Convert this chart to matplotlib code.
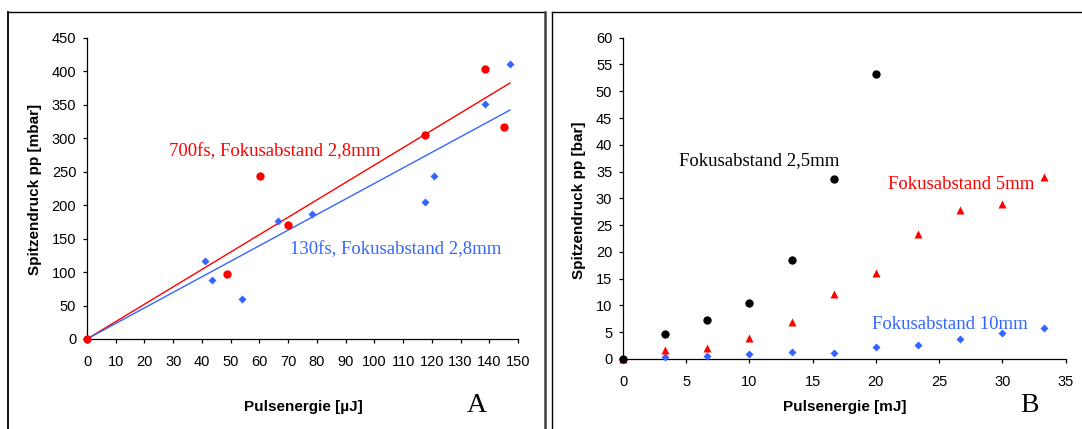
# -*- coding: utf-8 -*-
# Spitzendruck vs. Pulsenergie, zwei Panels (A: uJ / mbar, B: mJ / bar)

import numpy as np
import matplotlib.pyplot as plt
from matplotlib.lines import Line2D

# ====================================================================
# DATEN
# ====================================================================
# Panel A - 700fs, Fokusabstand 2,8mm (rote Kreise)
a_red_x = [0, 48.8, 60.1, 69.8, 117.5, 138.6, 145.1]
a_red_y = [0, 97, 243, 170, 304, 403, 316]
# Panel A - 130fs, Fokusabstand 2,8mm (blaue Rauten)
a_blue_x = [0, 41.1, 43.5, 54.0, 66.5, 78.4, 117.5, 120.8, 138.6, 147.2]
a_blue_y = [0, 116.5, 88.6, 59.2, 175.7, 186, 205, 243, 351, 410]

# Panel B - Pulsenergie [mJ]
b_x = [0, 3.33, 6.67, 10.0, 13.33, 16.67, 20.0, 23.33, 26.67, 30.0, 33.33]
b_black_y = [0, 4.6, 7.2, 10.45, 18.5, 33.7, 53.2]          # Fokusabstand 2,5mm
b_red_y = [0, 1.7, 2.1, 3.9, 6.9, 12.1, 16.0, 23.4, 27.8, 28.9, 34.0]  # 5mm
b_blue_y = [0, 0.4, 0.6, 0.9, 1.3, 1.1, 2.2, 2.6, 3.7, 4.8, 5.7]       # 10mm

a_xticks = list(range(0, 151, 10))
a_yticks = list(range(0, 451, 50))
b_xticks = list(range(0, 36, 5))
b_yticks = list(range(0, 61, 5))

RED = '#ff0000'
BLUE = '#3366ff'
W, H = 1082, 429

plt.rcParams['font.family'] = ['Liberation Sans', 'DejaVu Sans']
SERIF = ['Liberation Serif', 'DejaVu Serif']


def px(x, y):
    # Pixel (von oben links) -> Figurkoordinaten
    return x / W, 1 - y / H


def style_axes(ax, xticks, yticks):
    ax.spines['top'].set_visible(False)
    ax.spines['right'].set_visible(False)
    for s in ('left', 'bottom'):
        ax.spines[s].set_linewidth(0.9)
    ax.set_xticks(xticks)
    ax.set_yticks(yticks)
    ax.set_xlim(xticks[0], xticks[-1])
    ax.set_ylim(yticks[0], yticks[-1])
    ax.tick_params(axis='x', direction='out', length=3.2, width=0.9, pad=8, labelsize=10.5)
    ax.tick_params(axis='y', direction='out', length=3.2, width=0.9, pad=4.5, labelsize=10.5)


def fit_origin(x, y):
    # Trendlinie durch den Ursprung (kleinste Quadrate)
    x, y = np.asarray(x), np.asarray(y)
    return np.sum(x * y) / np.sum(x * x)


def main():
    fig = plt.figure(figsize=(W / 100, H / 100), dpi=100)

    # --- Rahmen der beiden Panels ---
    xa0, ya0 = px(8.3, 12.3)
    xa1, _ = px(544.7, 0)
    xb0, _ = px(552.3, 0)
    fig.add_artist(Line2D([xa0, xa0], [0, ya0], color='black', lw=1.3))
    fig.add_artist(Line2D([xa0, xa1], [ya0, ya0], color='black', lw=1.0))
    fig.add_artist(Line2D([xa1, xa1], [0, ya0], color='#404040', lw=1.8))
    fig.add_artist(Line2D([xb0, xb0], [0, ya0], color='black', lw=1.0))
    fig.add_artist(Line2D([xb0, 1.0], [ya0, ya0], color='black', lw=1.0))

    # --- Panel A ---
    axA = fig.add_axes([87 / W, 1 - 339 / H, (518 - 87) / W, (339 - 37.7) / H])
    style_axes(axA, a_xticks, a_yticks)
    xmax = max(a_blue_x)
    xs = np.array([0, xmax])
    axA.plot(xs, fit_origin(a_red_x, a_red_y) * xs, color=RED, lw=1.0, zorder=2)
    axA.plot(xs, fit_origin(a_blue_x, a_blue_y) * xs, color=BLUE, lw=1.0, zorder=2)
    axA.plot(a_blue_x, a_blue_y, 'D', color=BLUE, ms=4, mec='none', clip_on=False, zorder=3)
    axA.plot(a_red_x, a_red_y, 'o', color=RED, ms=6, mec='none', clip_on=False, zorder=4)
    axA.text(28.4, 279.7, '700fs, Fokusabstand 2,8mm', color=RED, family=SERIF,
             fontsize=13.5, ha='left', va='center')
    axA.text(70.7, 133, '130fs, Fokusabstand 2,8mm', color=BLUE, family=SERIF,
             fontsize=13.5, ha='left', va='center')

    # --- Panel B ---
    axB = fig.add_axes([623 / W, 1 - 359 / H, (1065.5 - 623) / W, (359 - 37.7) / H])
    style_axes(axB, b_xticks, b_yticks)
    axB.plot(b_x, b_blue_y, 'D', color=BLUE, ms=4, mec='none', clip_on=False, zorder=3)
    axB.plot(b_x, b_red_y, '^', color=RED, ms=5.5, mec='none', clip_on=False, zorder=3)
    axB.plot(b_x[:len(b_black_y)], b_black_y, 'o', color='black', ms=6, mec='none',
             clip_on=False, zorder=4)
    axB.text(4.43, 37.0, 'Fokusabstand 2,5mm', color='black', family=SERIF,
             fontsize=13.5, ha='left', va='center')
    axB.text(20.98, 32.5, 'Fokusabstand 5mm', color=RED, family=SERIF,
             fontsize=13.5, ha='left', va='center')
    axB.text(19.7, 6.5, 'Fokusabstand 10mm', color=BLUE, family=SERIF,
             fontsize=13.5, ha='left', va='center')

    # --- Achsenbeschriftungen ---
    fig.text(*px(303, 407), 'Pulsenergie [µJ]', fontsize=11, weight='bold', ha='center', va='center')
    fig.text(*px(845, 407), 'Pulsenergie [mJ]', fontsize=11, weight='bold', ha='center', va='center')
    fig.text(*px(35.5, 189), 'Spitzendruck pp [mbar]', fontsize=11, weight='bold',
             rotation=90, ha='center', va='center')
    fig.text(*px(579, 200), 'Spitzendruck pp [bar]', fontsize=11, weight='bold',
             rotation=90, ha='center', va='center')

    # Panel-Buchstaben
    fig.text(*px(477, 405), 'A', family=SERIF, fontsize=20, ha='center', va='center')
    fig.text(*px(1029.6, 405), 'B', family=SERIF, fontsize=20, ha='center', va='center')

    fig.savefig('out.png', dpi=100)


if __name__ == "__main__":
    main()
